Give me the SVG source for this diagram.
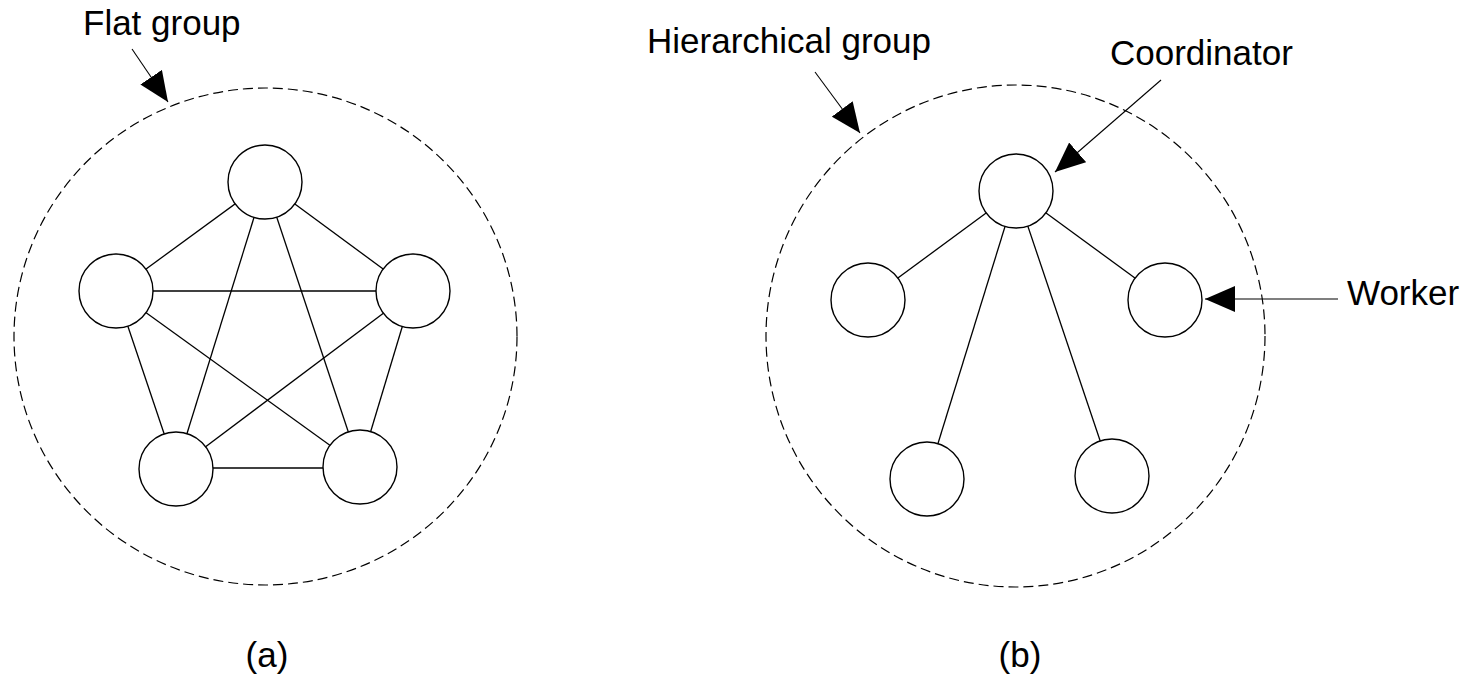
<svg xmlns="http://www.w3.org/2000/svg" width="1470" height="682" viewBox="0 0 1470 682">
  <defs>
    <marker id="arr" markerUnits="userSpaceOnUse" markerWidth="30" markerHeight="26" refX="30" refY="13" orient="auto">
      <path d="M0,0 L30,13 L0,26 Z" fill="#000"/>
    </marker>
    <style>
      .group { fill: none; stroke: #000; stroke-width: 1.2; stroke-dasharray: 10 5; }
      .node { fill: #fff; stroke: #000; stroke-width: 1.4; }
      .edge { stroke: #000; stroke-width: 1.3; fill: none; }
      .ptr { stroke: #000; stroke-width: 1.1; fill: none; marker-end: url(#arr); }
      .lbl { font-family: "Liberation Sans", Arial, sans-serif; font-size: 35px; fill: #000; }
    </style>
  </defs>
  <rect width="1470" height="682" fill="#fff"/>

  <g id="group-boundaries">
    <ellipse class="group" cx="265.5" cy="336.5" rx="251.5" ry="248.5"/>
    <ellipse class="group" cx="1015.5" cy="336" rx="249.5" ry="251"/>
  </g>

  <g id="connectors">
    <line class="edge" x1="265" y1="182" x2="116" y2="291"/>
    <line class="edge" x1="265" y1="182" x2="413" y2="291"/>
    <line class="edge" x1="265" y1="182" x2="176" y2="469"/>
    <line class="edge" x1="265" y1="182" x2="360" y2="467"/>
    <line class="edge" x1="116" y1="291" x2="413" y2="291"/>
    <line class="edge" x1="116" y1="291" x2="176" y2="469"/>
    <line class="edge" x1="116" y1="291" x2="360" y2="467"/>
    <line class="edge" x1="413" y1="291" x2="176" y2="469"/>
    <line class="edge" x1="413" y1="291" x2="360" y2="467"/>
    <line class="edge" x1="176" y1="468" x2="360" y2="468"/>

    <line class="edge" x1="1016" y1="191" x2="868" y2="300"/>
    <line class="edge" x1="1016" y1="191" x2="1165" y2="300"/>
    <line class="edge" x1="1016" y1="191" x2="927" y2="479"/>
    <line class="edge" x1="1016" y1="191" x2="1112" y2="476"/>

    <line class="ptr" x1="132" y1="49" x2="168" y2="102"/>
    <line class="ptr" x1="815" y1="72" x2="860" y2="133"/>
    <line class="ptr" x1="1161" y1="80" x2="1055" y2="172"/>
    <line class="ptr" x1="1338" y1="299" x2="1205" y2="299"/>
  </g>

  <g id="flat-n1"><circle class="node" cx="265" cy="182" r="37"/></g>
  <g id="flat-n2"><circle class="node" cx="116" cy="291" r="37"/></g>
  <g id="flat-n3"><circle class="node" cx="413" cy="291" r="37"/></g>
  <g id="flat-n4"><circle class="node" cx="176" cy="469" r="37"/></g>
  <g id="flat-n5"><circle class="node" cx="360" cy="467" r="37"/></g>

  <g id="coordinator"><circle class="node" cx="1016" cy="191" r="37"/></g>
  <g id="worker-left"><circle class="node" cx="868" cy="300" r="37"/></g>
  <g id="worker-right"><circle class="node" cx="1165" cy="300" r="37"/></g>
  <g id="worker-bottom-left"><circle class="node" cx="927" cy="479" r="37"/></g>
  <g id="worker-bottom-right"><circle class="node" cx="1112" cy="476" r="37"/></g>

  <g id="labels">
    <text class="lbl" x="83" y="35">Flat group</text>
    <text class="lbl" x="647" y="53">Hierarchical group</text>
    <text class="lbl" x="1110" y="65">Coordinator</text>
    <text class="lbl" x="1347" y="305">Worker</text>
    <text class="lbl" x="267" y="667" text-anchor="middle">(a)</text>
    <text class="lbl" x="1020" y="667" text-anchor="middle">(b)</text>
  </g>
</svg>
